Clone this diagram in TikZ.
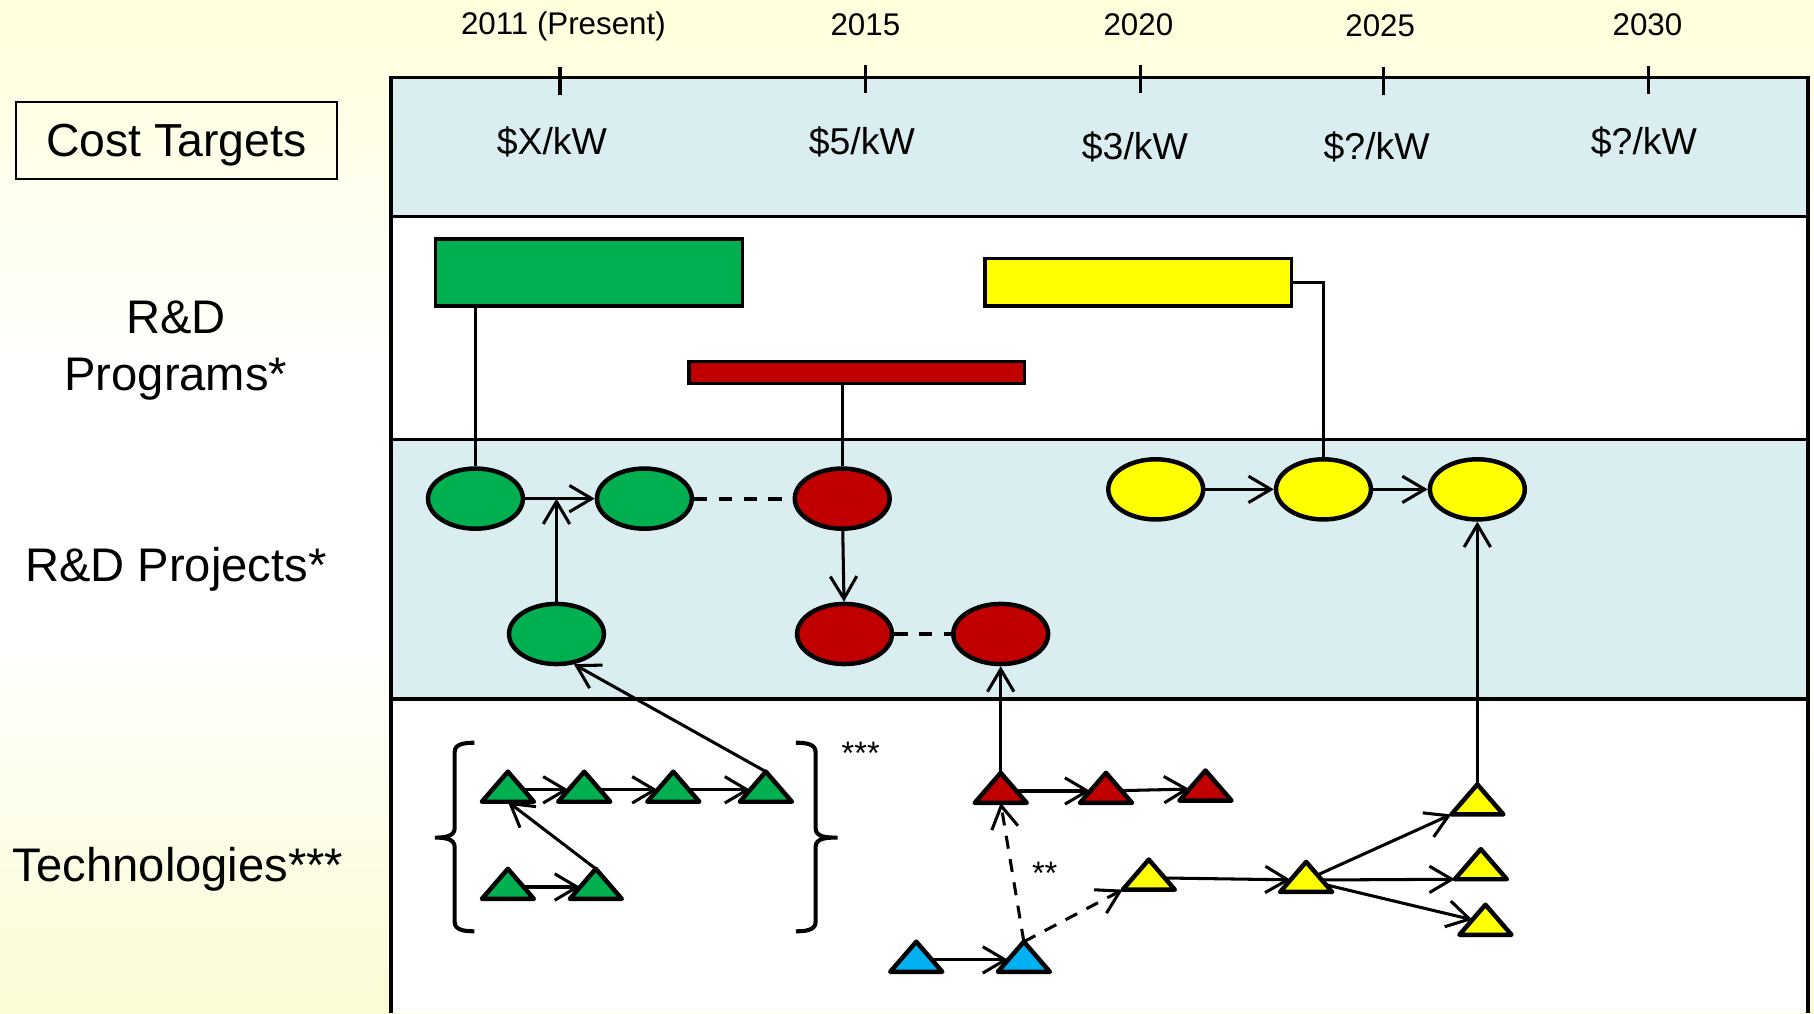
\documentclass[tikz,border=0pt]{standalone}
\usepackage{fontspec}
\setmainfont{Liberation Sans}
\usepackage{xcolor}
\usepackage{tikz}
\usetikzlibrary{arrows.meta,shapes.geometric}

\definecolor{bgtop}{RGB}{255,255,220}
\definecolor{bgbottom}{RGB}{251,251,212}
\definecolor{rowblue}{RGB}{218,237,240}
\definecolor{pgreen}{RGB}{0,176,80}
\definecolor{pred}{RGB}{192,0,0}
\definecolor{pyellow}{RGB}{255,255,0}
\definecolor{pblue}{RGB}{0,176,240}

\pgfdeclareverticalshading{bgfade}{100bp}{color(0bp)=(bgbottom); color(25bp)=(bgbottom); color(44bp)=(white); color(56bp)=(white); color(75bp)=(bgtop); color(100bp)=(bgtop)}

\tikzset{
	row/.style={draw,line width=0.9pt},
	prog/.style={draw,line width=0.8pt,inner sep=0pt},
	proj/.style={ellipse,draw,line width=1.1pt,inner sep=0pt,minimum width=8.2mm,minimum height=5.2mm},
	tech/.style={isosceles triangle,isosceles triangle stretches,shape border rotate=90,draw,line width=1.1pt,line join=round,inner sep=0pt,outer sep=0pt,minimum width=4.5mm,minimum height=2.6mm,anchor=apex},
	yearlbl/.style={font=\fontsize{7.7}{9}\selectfont},
	costlbl/.style={font=\fontsize{9.2}{11}\selectfont},
	rowlbl/.style={align=center,font=\fontsize{11.6}{14.2}\selectfont},
	starlbl/.style={font=\fontsize{8}{9}\selectfont},
}

\begin{document}
\begin{tikzpicture}[x=0.1mm,y=-0.1mm,>={Straight Barb[length=5.5pt,width=6.5pt]}]
		\useasboundingbox (0,0) rectangle (1568,876);
		\shade[shading=bgfade] (0,0) rectangle (1568,876);
		%
		\fill[rowblue] (338,67) rectangle (1563,187);
		\fill[white] (338,187) rectangle (1563,380);
		\fill[rowblue] (338,380) rectangle (1563,604);
		\fill[white] (338,604) rectangle (1563,876);
		\draw[row] (338,876) -- (338,67) -- (1563,67) -- (1563,876);
		\draw[row] (338,187) -- (1563,187);
		\draw[row] (338,380) -- (1563,380);
		\draw[row] (338,604) -- (1563,604);
		%
		\draw[line width=0.8pt] (484,58) -- (484,82);
		\draw[line width=0.8pt] (748,56) -- (748,80);
		\draw[line width=0.8pt] (986,56) -- (986,80);
		\draw[line width=0.8pt] (1196,58) -- (1196,82);
		\draw[line width=0.8pt] (1425,57) -- (1425,81);
		\node[yearlbl] (y2011) at (487,23) {2011 (Present)};
		\node[yearlbl] (y2015) at (748,21) {2015};
		\node[yearlbl] (y2020) at (984,21) {2020};
		\node[yearlbl] (y2025) at (1193,22) {2025};
		\node[yearlbl] (y2030) at (1424,21) {2030};
		%
		\node[costlbl] (c2011) at (477,123) {\$X/kW};
		\node[costlbl] (c2015) at (745,123) {\$5/kW};
		\node[costlbl] (c2020) at (981,127) {\$3/kW};
		\node[costlbl] (c2025) at (1190,127) {\$?/kW};
		\node[costlbl] (c2030) at (1421,123) {\$?/kW};
		%
		\node[draw,line width=0.5pt,minimum width=27.7mm,minimum height=6.7mm,text depth=0pt,font=\fontsize{11.4}{13}\selectfont] (cost) at (152.5,121.5) {Cost Targets};
		\node[rowlbl] (programs) at (152,303) {R\&D\\Programs*};
		\node[rowlbl] (projects) at (152,492) {R\&D Projects*};
		\node[rowlbl] (techs) at (154,751) {Technologies***};
		%
		\node[prog,fill=pgreen,minimum width=26.5mm,minimum height=5.8mm] (pg) at (509,235.5) {};
		\node[prog,fill=pred,minimum width=29mm,minimum height=1.9mm] (pr) at (740.5,322) {};
		\node[prog,fill=pyellow,minimum width=26.5mm,minimum height=4.1mm] (py) at (984,244) {};
		%
		\node[proj,fill=pgreen] (g1) at (411,431) {};
		\node[proj,fill=pgreen] (g2) at (557,431) {};
		\node[proj,fill=pred] (r1) at (728,431) {};
		\node[proj,fill=pgreen] (g3) at (481,548) {};
		\node[proj,fill=pred] (r2) at (730,548) {};
		\node[proj,fill=pred] (r3) at (865,548) {};
		\node[proj,fill=pyellow] (y1) at (999,423) {};
		\node[proj,fill=pyellow] (y2) at (1144,423) {};
		\node[proj,fill=pyellow] (y3) at (1277,423) {};
		\coordinate (gj) at (g3 |- g1);
		%
		\node[tech,fill=pgreen] (t1) at (439,667) {};
		\node[tech,fill=pgreen] (t2) at (505,667) {};
		\node[tech,fill=pgreen] (t3) at (582,667) {};
		\node[tech,fill=pgreen] (t4) at (662,667) {};
		\node[tech,fill=pgreen] (t5) at (439,751) {};
		\node[tech,fill=pgreen] (t6) at (515,751) {};
		\node[tech,fill=pred] (tr1) at (865,668) {};
		\node[tech,fill=pred] (tr2) at (956,668) {};
		\node[tech,fill=pred] (tr3) at (1042,666) {};
		\node[tech,fill=pblue] (tb1) at (792,814) {};
		\node[tech,fill=pblue] (tb2) at (885,814) {};
		\node[tech,fill=pyellow] (ty1) at (993,743) {};
		\node[tech,fill=pyellow] (ty2) at (1129,745) {};
		\node[tech,fill=pyellow] (ty3) at (1277,678) {};
		\node[tech,fill=pyellow] (ty4) at (1280,734) {};
		\node[tech,fill=pyellow] (ty5) at (1284,782) {};
		%
		\draw[line width=1pt] (410,642) to[out=180,in=90] (393,650) -- (393,716) to[out=-90,in=0] (376,724) to[out=0,in=90] (393,732) -- (393,797) to[out=-90,in=180] (410,805);
		\draw[line width=1pt] (688,642) to[out=0,in=90] (705,650) -- (705,716) to[out=-90,in=180] (724,724) to[out=180,in=90] (705,732) -- (705,797) to[out=-90,in=0] (688,805);
		\node[starlbl] (stars3) at (744,651) {***};
		\node[starlbl] (stars2) at (903,755) {**};
		%
		\path[line width=0.75pt]
		(g1.north |- pg.south) edge (g1.north)
		(r1.north |- pr.south) edge (r1.north)
		(py.east) edge[to path={-| (\tikztotarget)}] (y2.north);
		\path[line width=1pt,dash pattern=on 3.3pt off 2.8pt]
		(g2) edge (r1)
		(r2) edge (r3);
		\path[->,line width=0.75pt]
		(g1) edge (g2)
		(g3) edge (gj)
		(r1) edge (r2)
		(y1) edge (y2)
		(y2) edge (y3)
		(t1) edge (t2)
		(t2) edge (t3)
		(t3) edge (t4)
		(t5) edge (t6)
		(t6.apex) edge (t1.lower side)
		(t4.apex) edge (g3.-60)
		(tr1) edge (tr2)
		(tr2) edge (tr3)
		(tr1.apex) edge (r3)
		(tb1) edge (tb2)
		(ty1) edge (ty2)
		(ty2) edge (ty3.left corner)
		(ty2) edge (ty4.left corner)
		(ty2) edge (ty5)
		(ty3.apex) edge (y3);
		\path[->,line width=0.75pt,dash pattern=on 3.2pt off 2.6pt]
		(tb2.apex) edge (tr1.lower side)
		(tb2.apex) edge (ty1.left corner);
\end{tikzpicture}
\end{document}
